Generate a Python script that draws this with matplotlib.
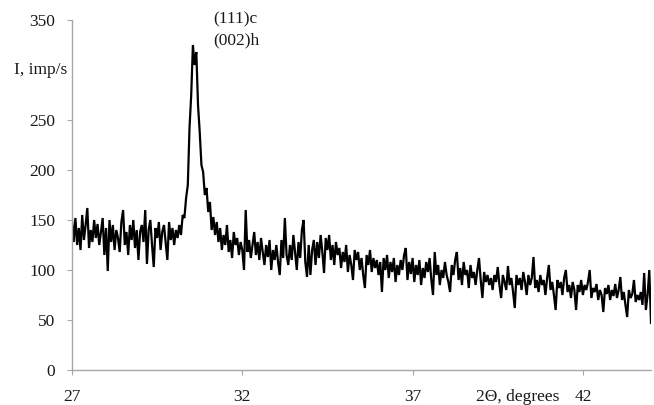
import numpy as np
import matplotlib
matplotlib.use("Agg")
import matplotlib.pyplot as plt

# 2-theta grid (degrees), 0.05 step from 27 to 44
two_theta_start = 27.0
two_theta_step = 0.05

seg_27 = [150, 128, 152, 125, 142, 120, 155, 130, 145, 162, 122, 140, 128, 150, 132, 146, 125, 138, 152, 115]
seg_28 = [142, 99, 150, 128, 145, 120, 140, 132, 118, 148, 160, 125, 138, 115, 145, 130, 150, 122, 140, 110]
seg_29 = [138, 145, 128, 160, 106, 140, 150, 125, 103, 142, 132, 148, 120, 138, 145, 128, 110, 148, 130, 142]
seg_30 = [125, 140, 132, 145, 135, 155, 152, 172, 185, 242, 275, 325, 305, 318, 265, 238, 205, 198, 175, 182]
seg_31 = [158, 168, 140, 153, 135, 148, 128, 142, 120, 135, 125, 145, 118, 130, 112, 138, 125, 132, 115, 128]
seg_32 = [120, 100, 160, 118, 130, 112, 125, 138, 115, 128, 110, 132, 118, 105, 125, 113, 130, 100, 120, 110]
seg_33 = [125, 108, 95, 130, 112, 152, 115, 105, 125, 110, 135, 118, 100, 128, 112, 140, 150, 108, 93, 125]
seg_34 = [95, 120, 130, 105, 128, 112, 135, 118, 97, 132, 120, 135, 110, 125, 105, 128, 115, 122, 102, 118]
seg_35 = [108, 125, 98, 115, 105, 90, 120, 110, 118, 100, 112, 95, 82, 115, 105, 120, 98, 112, 102, 110]
seg_36 = [95, 108, 78, 112, 100, 115, 92, 108, 98, 112, 88, 105, 95, 110, 100, 115, 122, 90, 108, 96]
seg_37 = [112, 88, 105, 95, 110, 85, 102, 92, 108, 98, 112, 90, 75, 118, 95, 105, 85, 100, 92, 108]
seg_38 = [95, 88, 78, 105, 95, 110, 118, 90, 102, 85, 108, 95, 100, 82, 105, 92, 98, 85, 100, 112]
seg_39 = [90, 72, 98, 88, 95, 85, 92, 80, 95, 88, 103, 85, 72, 95, 88, 80, 104, 85, 92, 78]
seg_40 = [62, 95, 85, 92, 80, 98, 88, 75, 95, 85, 92, 113, 82, 90, 78, 95, 85, 90, 75, 92]
seg_41 = [105, 80, 88, 75, 60, 90, 82, 88, 75, 92, 100, 78, 85, 72, 88, 80, 60, 85, 78, 90]
seg_42 = [75, 85, 80, 88, 100, 72, 82, 78, 86, 70, 80, 75, 58, 82, 76, 85, 70, 80, 74, 86]
seg_43 = [72, 80, 93, 70, 78, 65, 53, 80, 72, 76, 90, 68, 75, 70, 78, 65, 97, 60, 75, 100, 47]

intensity = (seg_27 + seg_28 + seg_29 + seg_30 + seg_31 + seg_32 + seg_33 + seg_34
             + seg_35 + seg_36 + seg_37 + seg_38 + seg_39 + seg_40 + seg_41 + seg_42 + seg_43)
two_theta = two_theta_start + two_theta_step * np.arange(len(intensity))

x_ticks = [27, 32, 37, 42]
y_ticks = [0, 50, 100, 150, 200, 250, 350]
y_label = "I, imp/s"
x_label = "2\u0398, degrees"
peak_labels = ["(111)c", "(002)h"]

plt.rcParams['font.family'] = ['Liberation Serif', 'DejaVu Serif']

fig = plt.figure(figsize=(6.54, 4.05), dpi=100)
ax = fig.add_axes([72 / 654, 35 / 405, (651 - 72) / 654, 350 / 405])

ax.plot(two_theta, intensity, color='black', lw=1.6, solid_joinstyle='miter')

ax.set_xlim(27, 44)
ax.set_ylim(0, 350)
ax.set_xticks(x_ticks)
ax.set_yticks(y_ticks)

axis_gray = '#A8A8A8'
for s in ['top', 'right']:
    ax.spines[s].set_visible(False)
for s in ['left', 'bottom']:
    ax.spines[s].set_color(axis_gray)
    ax.spines[s].set_linewidth(1.0)

ax.tick_params(axis='both', colors=axis_gray, labelcolor='#1a1a1a',
               direction='out', length=3.6, width=0.8, labelsize=12.5)
ax.tick_params(axis='y', pad=8.5)
ax.tick_params(axis='x', pad=10)

ax.annotate(y_label, xy=(0, 300), xycoords=('axes fraction', 'data'),
            xytext=(-3.5, 0), textcoords='offset points',
            ha='right', va='center', fontsize=12.5, color='#1a1a1a')

ax.annotate(x_label, xy=(40.1, 0), xycoords=('data', 'axes fraction'),
            xytext=(0, -13.6), textcoords='offset points',
            ha='center', va='top', fontsize=12.5, color='#1a1a1a')

ax.text(31.15, 351, peak_labels[0], ha='left', va='center', fontsize=12.5,
        color='#1a1a1a', clip_on=False)
ax.text(31.15, 330, peak_labels[1], ha='left', va='center', fontsize=12.5,
        color='#1a1a1a', clip_on=False)

fig.savefig("out.png", dpi=100)
